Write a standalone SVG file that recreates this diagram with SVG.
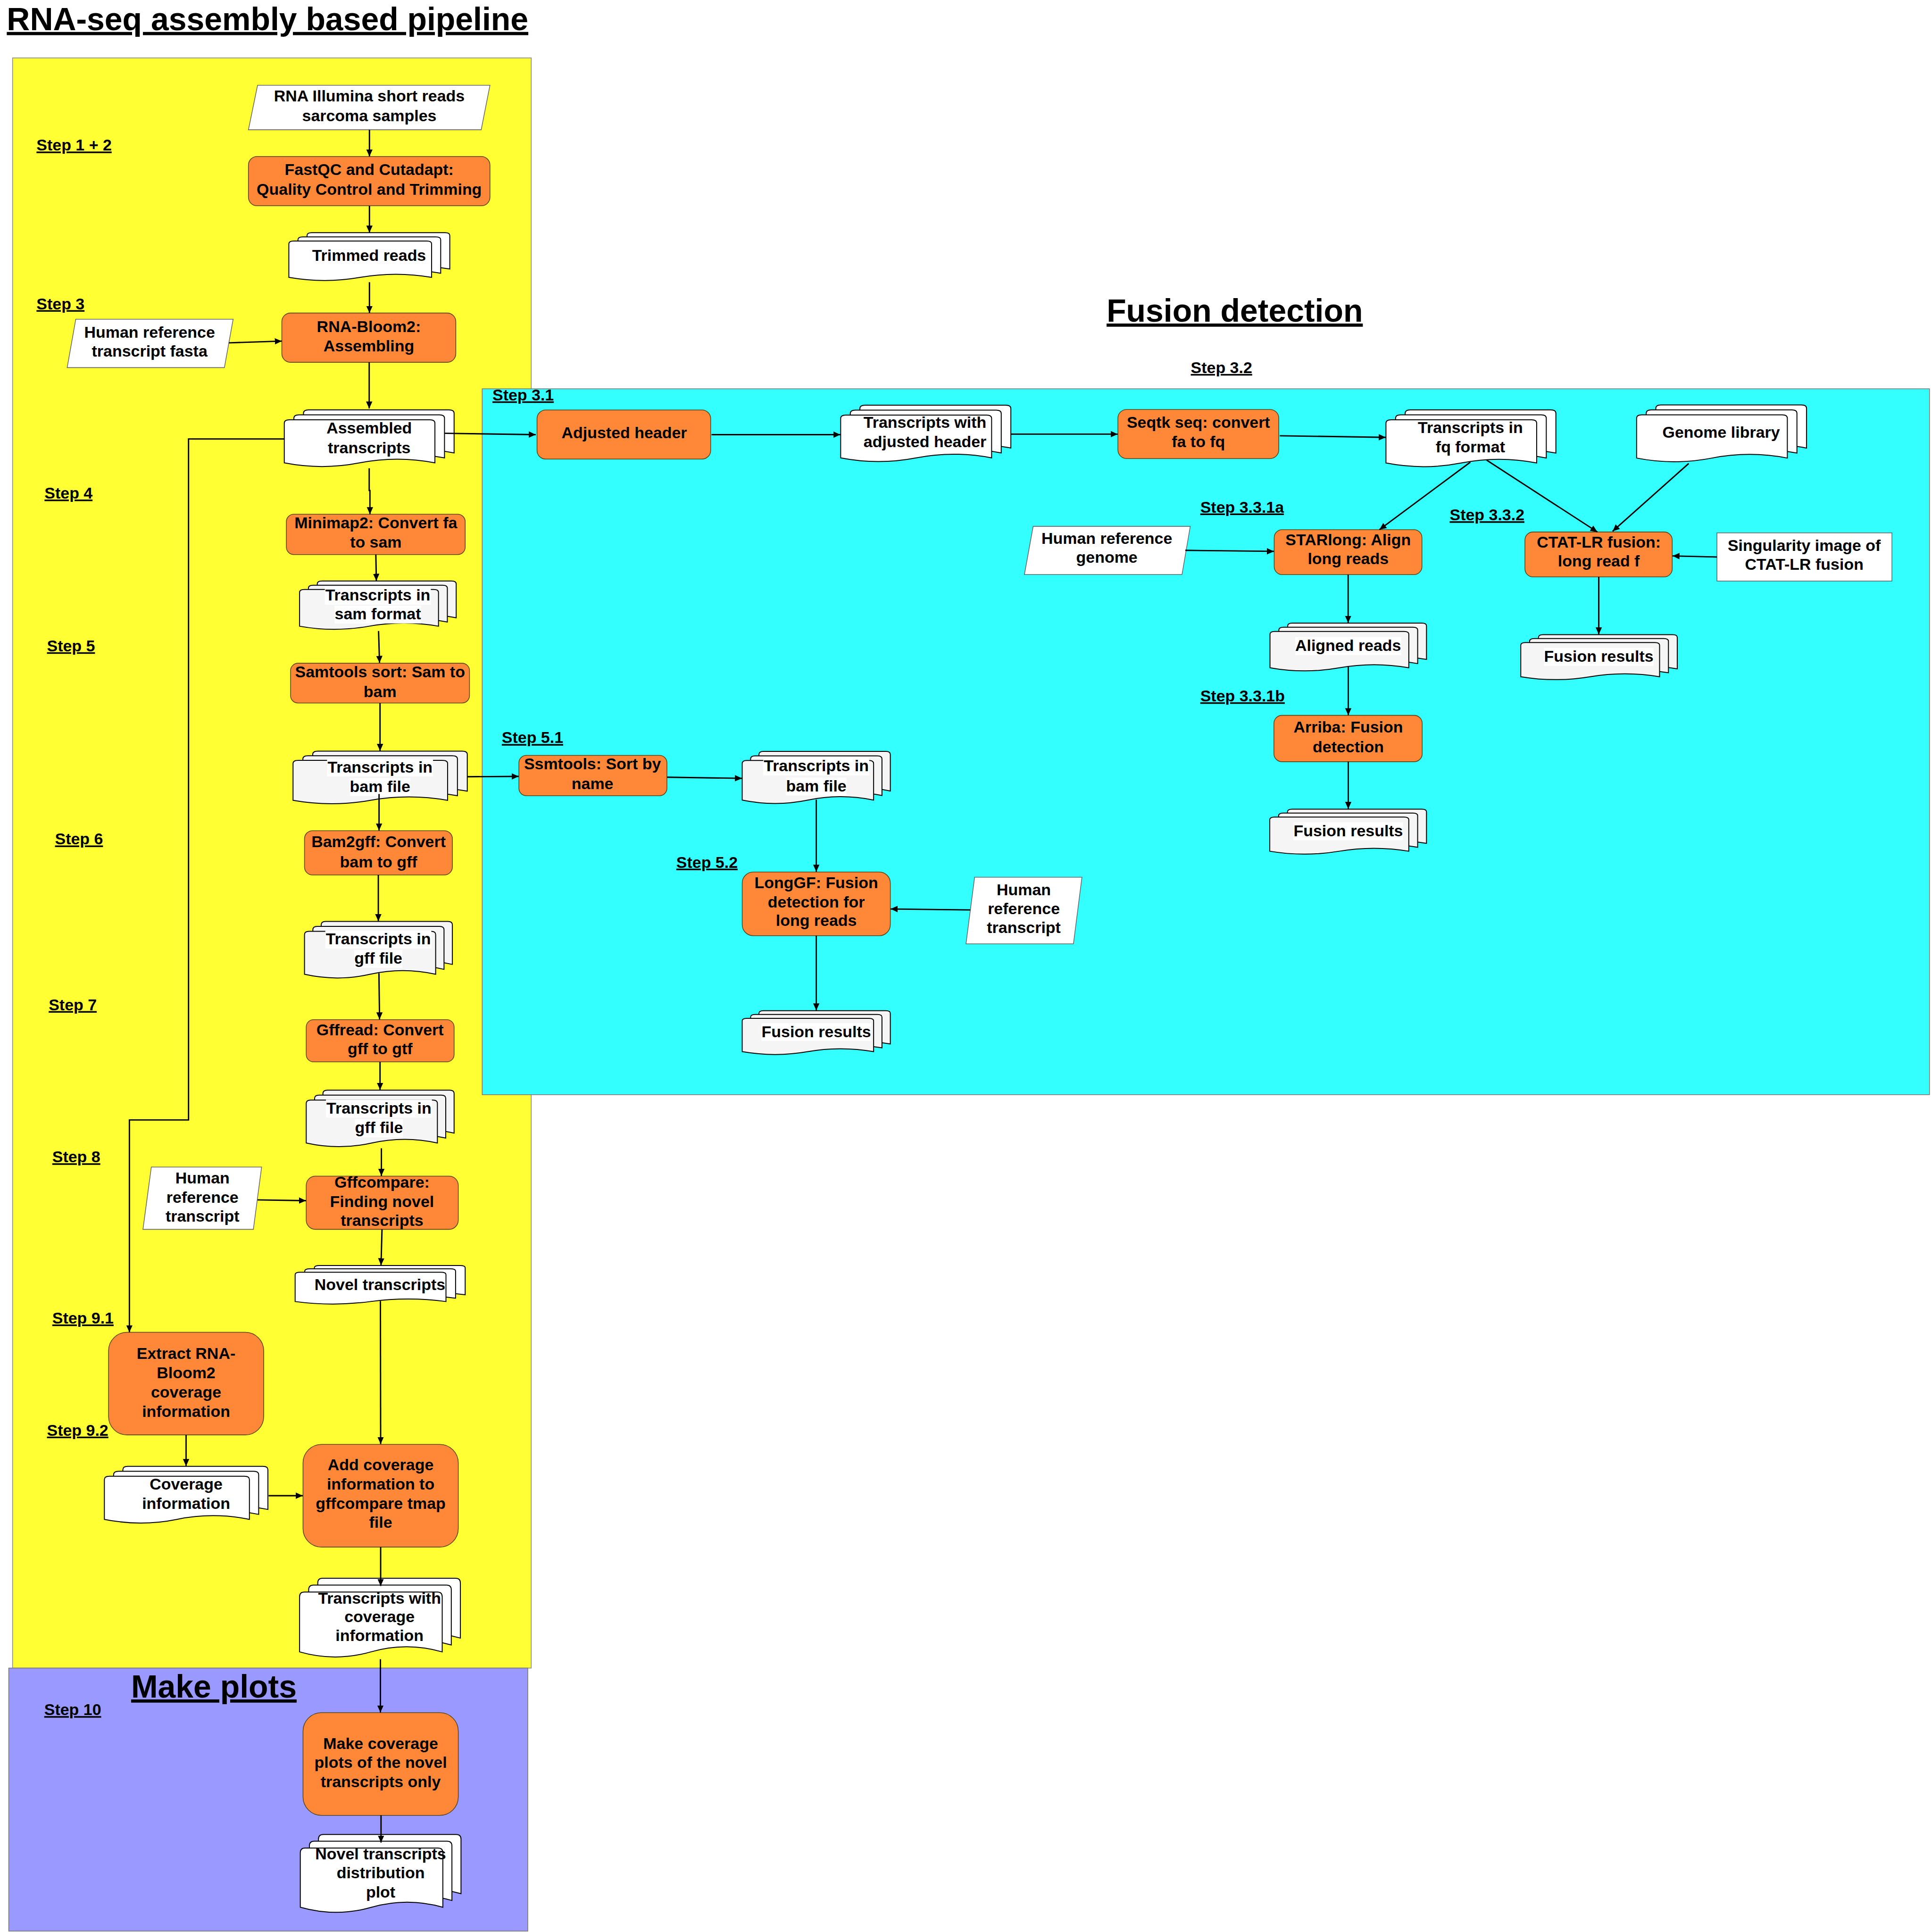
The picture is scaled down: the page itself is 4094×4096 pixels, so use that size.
<svg xmlns="http://www.w3.org/2000/svg" width="4094" height="4096" viewBox="0 0 4094 4096">
<defs>
<style>
.t{font-family:"Liberation Sans",Arial,Helvetica,sans-serif;font-weight:bold;font-size:13px;text-anchor:middle;fill:#000}
.s{font-family:"Liberation Sans",Arial,Helvetica,sans-serif;font-weight:bold;font-size:13px;text-decoration:underline;fill:#000}
.h{font-family:"Liberation Sans",Arial,Helvetica,sans-serif;font-weight:bold;font-size:26px;text-decoration:underline;fill:#000}
.p{fill:#FF8838;stroke:#5a4416;stroke-width:0.6}
.io{fill:#fff;stroke:#666;stroke-width:0.6}
.dw{fill:#fff;stroke:#000;stroke-width:2}
.dg{fill:#F5F5F5;stroke:#000;stroke-width:2}
.bg{fill:#fff}
.c{fill:none;stroke:#000;stroke-width:1.1;marker-end:url(#ah)}
</style>
<marker id="ah" viewBox="0 0 10 10" refX="10" refY="5" markerWidth="5.7" markerHeight="5.7" markerUnits="userSpaceOnUse" orient="auto"><path d="M0,0.5 L10,5 L0,9.5 Z" fill="#000"/></marker>
<symbol id="md" viewBox="0 0 100 100" preserveAspectRatio="none" overflow="visible">
<path vector-effect="non-scaling-stroke" d="M11.3,6 Q11.3,0 14.3,0 H97 Q100,0 100,6 V76 Q77.8,63 55.65,76 Q33.5,89 11.3,76 Z"/>
<path vector-effect="non-scaling-stroke" d="M5.65,14.75 Q5.65,8.75 8.65,8.75 H91.35 Q94.35,8.75 94.35,14.75 V84.75 Q72.15,71.75 50,84.75 Q27.85,97.75 5.65,84.75 Z"/>
<path vector-effect="non-scaling-stroke" d="M0,23.5 Q0,17.5 3,17.5 H85.7 Q88.7,17.5 88.7,23.5 V93.5 Q66.5,80.5 44.35,93.5 Q22.2,106.5 0,93.5 Z"/>
</symbol>
</defs>
<rect x="0" y="0" width="4094" height="4096" fill="#fff"/>
<g transform="scale(2.61264)">
<g id="areas">
<rect x="10.2" y="47" width="420.9" height="1306.6" fill="#FFFF33" stroke="#888" stroke-width="0.6"/>
<rect x="7.1" y="1353.6" width="421.2" height="213.4" fill="#9999FF" stroke="#777" stroke-width="0.6"/>
<rect x="391.3" y="315.5" width="1174.5" height="572.8" fill="#33FFFF" stroke="#777" stroke-width="0.6"/>
<text class="h" x="5.5" y="24.4">RNA-seq assembly based pipeline</text>
<text class="h" x="898" y="261">Fusion detection</text>
<text class="h" x="106.4" y="1377.5">Make plots</text>
</g>
<g id="nodes">
<g id="n1"><polygon class="io" points="209,69.2 397.6,69.2 390.5,105.3 201.6,105.3"/><text class="t" x="299.7" y="82.3">RNA Illumina short reads</text><text class="t" x="299.7" y="98.5">sarcoma samples</text></g>
<g id="n2"><rect class="p" x="201.6" y="127" width="196" height="40" rx="7"/><text class="t" x="299.6" y="142">FastQC and Cutadapt:</text><text class="t" x="299.6" y="158">Quality Control and Trimming</text></g>
<g id="n3"><use href="#md" class="dw" x="234.4" y="188.8" width="130.6" height="38.8"/><text class="t" x="299.5" y="211.8">Trimmed reads</text></g>
<g id="n4"><rect class="p" x="228.7" y="254" width="141.2" height="40" rx="7"/><text class="t" x="299.3" y="269.4">RNA-Bloom2:</text><text class="t" x="299.3" y="285">Assembling</text></g>
<g id="n5"><polygon class="io" points="61.5,259 189.2,259 182.1,298.3 54.5,298.3"/><text class="t" x="121.4" y="273.9">Human reference</text><text class="t" x="121.4" y="289.2">transcript fasta</text></g>
<g id="n6"><use href="#md" class="dw" x="230.7" y="332.6" width="137.8" height="46"/><text class="t" x="299.6" y="351.9">Assembled</text><text class="t" x="299.6" y="367.7">transcripts</text></g>
<g id="n7"><rect class="p" x="232.4" y="417.3" width="145.1" height="32.7" rx="6"/><text class="t" x="305" y="428.7">Minimap2: Convert fa</text><text class="t" x="305" y="444.5">to sam</text></g>
<g id="n8"><use href="#md" class="dg" x="243.1" y="471.5" width="127.1" height="39.2"/><rect class="bg" x="263.6" y="476.1" width="86" height="14.5"/><rect class="bg" x="271.55" y="491.4" width="70.1" height="14.5"/><text class="t" x="306.6" y="487.3">Transcripts in</text><text class="t" x="306.6" y="502.6">sam format</text></g>
<g id="n9"><rect class="p" x="235.8" y="538.2" width="145.2" height="32.3" rx="6"/><text class="t" x="308.4" y="549.7">Samtools sort: Sam to</text><text class="t" x="308.4" y="565.7">bam</text></g>
<g id="n10"><use href="#md" class="dg" x="237.8" y="609.5" width="141.4" height="42.7"/><rect class="bg" x="265.4" y="615.6" width="86" height="14.5"/><rect class="bg" x="283.85" y="631.4" width="49.1" height="14.5"/><text class="t" x="308.4" y="626.8">Transcripts in</text><text class="t" x="308.4" y="642.6">bam file</text></g>
<g id="n11"><rect class="p" x="247.1" y="674.1" width="120" height="35.9" rx="6.5"/><text class="t" x="307.2" y="687.6">Bam2gff: Convert</text><text class="t" x="307.2" y="703.7">bam to gff</text></g>
<g id="n12"><use href="#md" class="dg" x="247.1" y="747.7" width="120" height="45.9"/><rect class="bg" x="264" y="755.1" width="86" height="14.5"/><rect class="bg" x="287.5" y="770.8" width="39" height="14.5"/><text class="t" x="307" y="766.3">Transcripts in</text><text class="t" x="307" y="782">gff file</text></g>
<g id="n13"><rect class="p" x="248.5" y="827.4" width="120" height="34.3" rx="6"/><text class="t" x="308.4" y="840.1">Gffread: Convert</text><text class="t" x="308.4" y="855.5">gff to gtf</text></g>
<g id="n14"><use href="#md" class="dg" x="248.5" y="884.6" width="120" height="45.9"/><rect class="bg" x="264.5" y="892.3" width="86" height="14.5"/><rect class="bg" x="288" y="908.3" width="39" height="14.5"/><text class="t" x="307.5" y="903.5">Transcripts in</text><text class="t" x="307.5" y="919.5">gff file</text></g>
<g id="n15"><rect class="p" x="248.5" y="954.4" width="123.4" height="43.2" rx="7.5"/><text class="t" x="310" y="963.6">Gffcompare:</text><text class="t" x="310" y="979.4">Finding novel</text><text class="t" x="310" y="994.6">transcripts</text></g>
<g id="n16"><polygon class="io" points="122.8,947 212.3,947 205.6,997.6 116,997.6"/><text class="t" x="164.3" y="960.2">Human</text><text class="t" x="164.3" y="976">reference</text><text class="t" x="164.3" y="991.3">transcript</text></g>
<g id="n17"><use href="#md" class="dw" x="239.5" y="1026.9" width="138" height="31.3"/><text class="t" x="308.3" y="1046.8">Novel transcripts</text></g>
<g id="n18"><rect class="p" x="88.1" y="1081.1" width="125.9" height="83.3" rx="15"/><text class="t" x="151" y="1102.8">Extract RNA-</text><text class="t" x="151" y="1118.4">Bloom2</text><text class="t" x="151" y="1134.1">coverage</text><text class="t" x="151" y="1149.7">information</text></g>
<g id="n19"><use href="#md" class="dw" x="84.7" y="1189.9" width="132.7" height="46"/><text class="t" x="151" y="1208.9">Coverage</text><text class="t" x="151" y="1224.4">information</text></g>
<g id="n20"><rect class="p" x="245.9" y="1172.1" width="126" height="83.3" rx="15"/><text class="t" x="308.9" y="1193.1">Add coverage</text><text class="t" x="308.9" y="1208.9">information to</text><text class="t" x="308.9" y="1224.4">gffcompare tmap</text><text class="t" x="308.9" y="1239.6">file</text></g>
<g id="n21"><use href="#md" class="dw" x="243.1" y="1280.7" width="130.5" height="63.9"/><text class="t" x="308" y="1301.4">Transcripts with</text><text class="t" x="308" y="1316.3">coverage</text><text class="t" x="308" y="1331.5">information</text></g>
<g id="n22"><rect class="p" x="245.9" y="1389.8" width="126" height="83.3" rx="15"/><text class="t" x="308.9" y="1419.1">Make coverage</text><text class="t" x="308.9" y="1434.6">plots of the novel</text><text class="t" x="308.9" y="1450.1">transcripts only</text></g>
<g id="n23"><use href="#md" class="dw" x="243.7" y="1488.6" width="130.4" height="63.2"/><text class="t" x="308.9" y="1508.7">Novel transcripts</text><text class="t" x="308.9" y="1524">distribution</text><text class="t" x="308.9" y="1539.7">plot</text></g>
<g id="n24"><rect class="p" x="435.8" y="332.7" width="140.9" height="39.8" rx="7"/><text class="t" x="506.6" y="355.5">Adjusted header</text></g>
<g id="n25"><use href="#md" class="dw" x="682.2" y="328.8" width="138.1" height="45.7"/><text class="t" x="750.6" y="347.1">Transcripts with</text><text class="t" x="750.6" y="362.9">adjusted header</text></g>
<g id="n26"><rect class="p" x="907.2" y="332.3" width="130.5" height="39.8" rx="7"/><text class="t" x="972.5" y="347.1">Seqtk seq: convert</text><text class="t" x="972.5" y="362.9">fa to fq</text></g>
<g id="n27"><use href="#md" class="dw" x="1124.7" y="332.6" width="137.9" height="46.1"/><text class="t" x="1193.2" y="351.2">Transcripts in</text><text class="t" x="1193.2" y="367.2">fq format</text></g>
<g id="n28"><use href="#md" class="dw" x="1328.1" y="328.6" width="137.9" height="46.1"/><text class="t" x="1396.7" y="355.2">Genome library</text></g>
<g id="n29"><rect class="p" x="1034" y="429.8" width="119.9" height="36.5" rx="6.5"/><text class="t" x="1094" y="442.6">STARlong: Align</text><text class="t" x="1094" y="457.9">long reads</text></g>
<g id="n30"><rect class="p" x="1237.5" y="431.7" width="119.5" height="36.4" rx="6.5"/><text class="t" x="1297.4" y="444.5">CTAT-LR fusion:</text><text class="t" x="1297.4" y="459.8">long read f</text></g>
<g id="n31"><rect class="io" x="1393.3" y="432.4" width="142" height="39.1"/><text class="t" x="1464.1" y="446.9">Singularity image of</text><text class="t" x="1464.1" y="462.2">CTAT-LR fusion</text></g>
<g id="n32"><polygon class="io" points="838.4,427.1 965.9,427.1 959.2,466.2 831.3,466.2"/><text class="t" x="898.2" y="441.2">Human reference</text><text class="t" x="898.2" y="456.8">genome</text></g>
<g id="n33"><use href="#md" class="dg" x="1030.6" y="505.6" width="127" height="38.8"/><rect class="bg" x="1051" y="517.1" width="86" height="14.5"/><text class="t" x="1094" y="528.3">Aligned reads</text></g>
<g id="n34"><rect class="p" x="1033.8" y="580.5" width="120.3" height="37.6" rx="6.5"/><text class="t" x="1094.1" y="594.5">Arriba: Fusion</text><text class="t" x="1094.1" y="610.4">detection</text></g>
<g id="n35"><use href="#md" class="dg" x="1030.4" y="656.6" width="127.2" height="36.5"/><rect class="bg" x="1049.65" y="667.3" width="88.9" height="14.5"/><text class="t" x="1094.1" y="678.5">Fusion results</text></g>
<g id="n36"><use href="#md" class="dg" x="1234.1" y="515" width="127" height="36.5"/><rect class="bg" x="1252.95" y="525.8" width="88.9" height="14.5"/><text class="t" x="1297.4" y="537">Fusion results</text></g>
<g id="n37"><rect class="p" x="421.1" y="613" width="120.1" height="32.7" rx="6"/><text class="t" x="480.8" y="624.4">Ssmtools: Sort by</text><text class="t" x="480.8" y="640.5">name</text></g>
<g id="n38"><use href="#md" class="dg" x="602.3" y="609.7" width="120.2" height="42.3"/><rect class="bg" x="619.4" y="614.7" width="86" height="14.5"/><rect class="bg" x="637.85" y="631" width="49.1" height="14.5"/><text class="t" x="662.4" y="625.9">Transcripts in</text><text class="t" x="662.4" y="642.2">bam file</text></g>
<g id="n39"><rect class="p" x="602.3" y="707.6" width="120.2" height="51.7" rx="9"/><text class="t" x="662.4" y="720.7">LongGF: Fusion</text><text class="t" x="662.4" y="736.3">detection for</text><text class="t" x="662.4" y="751.5">long reads</text></g>
<g id="n40"><polygon class="io" points="790.9,711.8 878,711.8 871.1,765.9 783.9,765.9"/><text class="t" x="830.8" y="726.6">Human</text><text class="t" x="830.8" y="741.6">reference</text><text class="t" x="830.8" y="757.1">transcript</text></g>
<g id="n41"><use href="#md" class="dg" x="602.3" y="820.1" width="120.2" height="35.6"/><rect class="bg" x="617.95" y="830.3" width="88.9" height="14.5"/><text class="t" x="662.4" y="841.5">Fusion results</text></g>
</g>
<g id="steps">
<text class="s" x="29.6" y="122.2">Step 1 + 2</text>
<text class="s" x="29.6" y="250.9">Step 3</text>
<text class="s" x="36.1" y="404.6">Step 4</text>
<text class="s" x="38.1" y="528.5">Step 5</text>
<text class="s" x="44.6" y="685.3">Step 6</text>
<text class="s" x="39.5" y="819.7">Step 7</text>
<text class="s" x="42.4" y="943.2">Step 8</text>
<text class="s" x="42.4" y="1074">Step 9.1</text>
<text class="s" x="38.1" y="1165">Step 9.2</text>
<text class="s" x="35.9" y="1391.8">Step 10</text>
<text class="s" x="399.6" y="324.9">Step 3.1</text>
<text class="s" x="966.3" y="302.7">Step 3.2</text>
<text class="s" x="974" y="415.9">Step 3.3.1a</text>
<text class="s" x="1176.4" y="422.2">Step 3.3.2</text>
<text class="s" x="974" y="569.1">Step 3.3.1b</text>
<text class="s" x="407.2" y="603">Step 5.1</text>
<text class="s" x="548.8" y="704.1">Step 5.2</text>
</g>
<g id="connectors">
<path class="c" d="M299.8,105.3 V127"/>
<path class="c" d="M299.8,167 V188.8"/>
<path class="c" d="M299.8,229 V254"/>
<path class="c" d="M185.8,278.2 L228.7,276.8"/>
<path class="c" d="M299.6,294 V331.5"/>
<path class="c" d="M361,351.6 L434.8,352.7"/>
<path class="c" d="M230.7,356.2 H153 V908.8 H105 V1081.1"/>
<path class="c" d="M299.6,380 V398 H300.2 V417.3"/>
<path class="c" d="M305,450 L305.4,471.3"/>
<path class="c" d="M307.2,512 L308,537.9"/>
<path class="c" d="M308.4,570.5 V609.3"/>
<path class="c" d="M379.2,630.3 L420.9,630"/>
<path class="c" d="M307.6,644.3 V673.9"/>
<path class="c" d="M307,710 V747.5"/>
<path class="c" d="M307.5,789.7 L308,827.2"/>
<path class="c" d="M308.4,861.7 V884.4"/>
<path class="c" d="M309.5,931.8 V954.2"/>
<path class="c" d="M209,973.7 L248.3,974.3"/>
<path class="c" d="M310,997.6 L309.2,1026.7"/>
<path class="c" d="M308.7,1055.7 L308.9,1171.8"/>
<path class="c" d="M151,1164.4 V1189.7"/>
<path class="c" d="M218,1213.7 H245.7"/>
<path class="c" d="M308.9,1255.4 V1287"/>
<path class="c" d="M308.7,1346.4 V1389.6"/>
<path class="c" d="M309.2,1473.1 V1495.2"/>
<path class="c" d="M577.4,352.7 H682"/>
<path class="c" d="M820.6,352.3 H907"/>
<path class="c" d="M1038.5,353.6 L1124.5,354.9"/>
<path class="c" d="M1193.2,375 L1119.4,429.8"/>
<path class="c" d="M1206.4,373.4 L1296.3,431.7"/>
<path class="c" d="M1370.4,376.1 L1308.6,431.1"/>
<path class="c" d="M1393.3,452 L1357.2,451.1"/>
<path class="c" d="M961.9,446.6 L1033.8,447.4"/>
<path class="c" d="M1094,466.3 V505.4"/>
<path class="c" d="M1094.1,541.1 V580.4"/>
<path class="c" d="M1094.1,618.1 V656.4"/>
<path class="c" d="M1297.4,468.1 V514.8"/>
<path class="c" d="M541.4,630.7 L602.1,631.6"/>
<path class="c" d="M662.4,648.8 V707.4"/>
<path class="c" d="M787.4,738.4 L722.7,737.6"/>
<path class="c" d="M662.4,759.3 V819.9"/>
</g>
</g>
</svg>
